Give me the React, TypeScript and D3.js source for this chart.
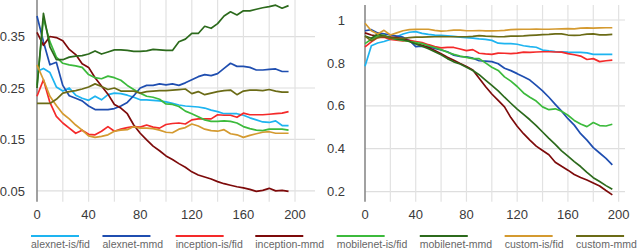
import { useEffect, useRef } from "react";
import * as d3 from "d3";

// epochs shared by every series
const epochs = [
	0, 5, 10, 15, 20, 25, 30, 35, 40, 45, 50, 55, 60, 65, 70, 75, 80, 85, 90, 95,
	100, 105, 110, 115, 120, 125, 130, 135, 140, 145, 150, 155, 160, 165, 170, 175,
	180, 185, 190, 195,
];

const seriesNames = [
	"alexnet-is/fid",
	"alexnet-mmd",
	"inception-is/fid",
	"inception-mmd",
	"mobilenet-is/fid",
	"mobilenet-mmd",
	"custom-is/fid",
	"custom-mmd",
];
const seriesColors = [
	"#1eb4f0",
	"#1f4eb0",
	"#f42a2a",
	"#7d0a0a",
	"#3cba3c",
	"#2c6a1c",
	"#d49a30",
	"#6b6b16",
];

// left panel
const leftAlexIs = [
	0.282, 0.288, 0.28, 0.252, 0.244, 0.25, 0.236, 0.23, 0.226, 0.234, 0.227, 0.237,
	0.24, 0.239, 0.236, 0.232, 0.227, 0.227, 0.226, 0.225, 0.223, 0.22, 0.217, 0.215,
	0.214, 0.213, 0.211, 0.207, 0.204, 0.2, 0.2, 0.2, 0.197, 0.192, 0.188, 0.184,
	0.183, 0.186, 0.177, 0.177,
];
const leftAlexMmd = [
	0.39, 0.34, 0.295, 0.3, 0.255, 0.235, 0.23, 0.225, 0.215, 0.208, 0.208, 0.208,
	0.21, 0.215, 0.222, 0.235, 0.25, 0.255, 0.255, 0.258, 0.256, 0.258, 0.255, 0.26,
	0.266, 0.272, 0.276, 0.274, 0.278, 0.288, 0.298, 0.292, 0.292, 0.29, 0.285,
	0.285, 0.286, 0.287, 0.282, 0.282,
];
const leftIncIs = [
	0.234, 0.266, 0.222, 0.195, 0.182, 0.172, 0.162, 0.168, 0.16, 0.159, 0.166,
	0.175, 0.166, 0.17, 0.173, 0.175, 0.174, 0.178, 0.174, 0.172, 0.179, 0.181,
	0.182, 0.18, 0.188, 0.19, 0.19, 0.19, 0.198, 0.197, 0.197, 0.193, 0.201, 0.198,
	0.198, 0.198, 0.199, 0.2, 0.201, 0.204,
];
const leftIncMmd = [
	0.358, 0.333, 0.35, 0.348, 0.342, 0.325, 0.315, 0.297, 0.29, 0.27, 0.254, 0.238,
	0.218, 0.211, 0.2, 0.178, 0.162, 0.149, 0.137, 0.128, 0.118, 0.111, 0.103, 0.096,
	0.087, 0.081, 0.077, 0.073, 0.068, 0.064, 0.061, 0.058, 0.056, 0.053, 0.049,
	0.051, 0.055, 0.05, 0.051, 0.049,
];
const leftMobIs = [
	0.255, 0.385, 0.34, 0.31, 0.298, 0.295, 0.293, 0.29, 0.276, 0.27, 0.268, 0.273,
	0.27, 0.265, 0.255, 0.247, 0.24, 0.234, 0.232, 0.228, 0.219, 0.218, 0.214, 0.205,
	0.2, 0.194, 0.188, 0.185, 0.185, 0.186, 0.185, 0.182, 0.175, 0.171, 0.168, 0.167,
	0.17, 0.17, 0.17, 0.168,
];
const leftMobMmd = [
	0.25, 0.395, 0.33, 0.305, 0.305, 0.31, 0.312, 0.313, 0.316, 0.322, 0.316, 0.32,
	0.324, 0.324, 0.323, 0.321, 0.321, 0.322, 0.325, 0.324, 0.323, 0.323, 0.34,
	0.345, 0.356, 0.356, 0.37, 0.366, 0.375, 0.39, 0.398, 0.392, 0.4, 0.4, 0.403,
	0.406, 0.408, 0.411, 0.405, 0.41,
];
const leftCustIs = [
	0.295, 0.266, 0.234, 0.216, 0.2, 0.19, 0.178, 0.168, 0.157, 0.154, 0.156, 0.159,
	0.166, 0.168, 0.169, 0.175, 0.172, 0.172, 0.171, 0.168, 0.164, 0.163, 0.17,
	0.173, 0.18, 0.176, 0.17, 0.167, 0.166, 0.169, 0.161, 0.159, 0.154, 0.158, 0.161,
	0.164, 0.165, 0.162, 0.162, 0.162,
];
const leftCustMmd = [
	0.22, 0.22, 0.22, 0.228, 0.24, 0.243, 0.245, 0.248, 0.252, 0.258, 0.253, 0.247,
	0.25, 0.244, 0.244, 0.244, 0.24, 0.243, 0.244, 0.245, 0.245, 0.246, 0.247, 0.248,
	0.239, 0.243, 0.237, 0.24, 0.243, 0.245, 0.246, 0.237, 0.244, 0.246, 0.246,
	0.245, 0.247, 0.244, 0.242, 0.242,
];

// right panel
const rightAlexIs = [
	0.785, 0.88, 0.893, 0.9, 0.91, 0.922, 0.935, 0.943, 0.946, 0.938, 0.933, 0.93,
	0.928, 0.926, 0.924, 0.92, 0.918, 0.916, 0.912, 0.91, 0.905, 0.892, 0.89, 0.89,
	0.887, 0.88, 0.876, 0.873, 0.86, 0.856, 0.853, 0.852, 0.85, 0.849, 0.849, 0.847,
	0.84, 0.84, 0.84, 0.84,
];
const rightAlexMmd = [
	0.95, 0.955, 0.94, 0.935, 0.93, 0.925, 0.92, 0.905, 0.876, 0.878, 0.876, 0.868,
	0.86, 0.852, 0.836, 0.83, 0.828, 0.822, 0.81, 0.808, 0.806, 0.796, 0.775, 0.764,
	0.75, 0.735, 0.72, 0.695, 0.67, 0.64, 0.607, 0.575, 0.54, 0.51, 0.47, 0.44,
	0.405, 0.38, 0.355, 0.325,
];
const rightIncIs = [
	0.875, 0.898, 0.918, 0.92, 0.91, 0.906, 0.903, 0.905, 0.9, 0.895, 0.885, 0.876,
	0.87, 0.872, 0.872, 0.865, 0.857, 0.862, 0.845, 0.842, 0.84, 0.846, 0.845, 0.843,
	0.846, 0.85, 0.849, 0.851, 0.852, 0.852, 0.851, 0.85, 0.843, 0.838, 0.832, 0.816,
	0.82, 0.806, 0.81, 0.813,
];
const rightIncMmd = [
	0.94, 0.93, 0.925, 0.922, 0.92, 0.918, 0.912, 0.902, 0.892, 0.882, 0.872, 0.858,
	0.843, 0.826, 0.812, 0.797, 0.783, 0.767, 0.728, 0.69, 0.655, 0.625, 0.595,
	0.545, 0.505, 0.47, 0.44, 0.412, 0.392, 0.372, 0.337, 0.318, 0.3, 0.28, 0.266,
	0.254, 0.24, 0.226, 0.205, 0.185,
];
const rightMobIs = [
	0.89, 0.91, 0.925, 0.93, 0.915, 0.91, 0.905, 0.9, 0.895, 0.89, 0.88, 0.872,
	0.862, 0.85, 0.84, 0.832, 0.826, 0.82, 0.82, 0.8, 0.78, 0.765, 0.735, 0.715, 0.69,
	0.66, 0.64, 0.622, 0.595, 0.582, 0.586, 0.575, 0.556, 0.532, 0.515, 0.503, 0.522,
	0.508, 0.506, 0.514,
];
const rightMobMmd = [
	0.925, 0.915, 0.935, 0.925, 0.918, 0.912, 0.908, 0.9, 0.888, 0.878, 0.866,
	0.852, 0.838, 0.82, 0.805, 0.795, 0.78, 0.765, 0.745, 0.72, 0.695, 0.67, 0.64,
	0.612, 0.585, 0.56, 0.535, 0.508, 0.478, 0.448, 0.42, 0.39, 0.365, 0.34, 0.317,
	0.29, 0.265, 0.247, 0.228, 0.211,
];
const rightCustIs = [
	0.985, 0.95, 0.935, 0.952, 0.93, 0.94, 0.95, 0.955, 0.956, 0.957, 0.957, 0.952,
	0.948, 0.95, 0.953, 0.953, 0.95, 0.95, 0.951, 0.949, 0.949, 0.95, 0.952, 0.955,
	0.956, 0.957, 0.957, 0.958, 0.957, 0.957, 0.958, 0.959, 0.96, 0.959, 0.962, 0.963,
	0.962, 0.963, 0.964, 0.964,
];
const rightCustMmd = [
	0.925, 0.903, 0.918, 0.925, 0.915, 0.915, 0.915, 0.918, 0.92, 0.92, 0.921, 0.922,
	0.923, 0.922, 0.922, 0.922, 0.922, 0.924, 0.927, 0.925, 0.924, 0.922, 0.923,
	0.925, 0.925, 0.926, 0.928, 0.93, 0.932, 0.933, 0.935, 0.935, 0.93, 0.928, 0.93,
	0.934, 0.935, 0.931, 0.931, 0.933,
];

const leftSeries = [
	leftAlexIs, leftAlexMmd, leftIncIs, leftIncMmd,
	leftMobIs, leftMobMmd, leftCustIs, leftCustMmd,
];
const rightSeries = [
	rightAlexIs, rightAlexMmd, rightIncIs, rightIncMmd,
	rightMobIs, rightMobMmd, rightCustIs, rightCustMmd,
];

const xTicks = [0, 40, 80, 120, 160, 200];
const xGrid = [20, 40, 60, 80, 100, 120, 140, 160, 180, 200];
const leftYTicks = [0.05, 0.15, 0.25, 0.35];
const rightYTicks = [0.2, 0.4, 0.6, 0.8, 1];

export default function App() {
	const svgRef = useRef<SVGSVGElement>(null);

	useEffect(() => {
		if (!svgRef.current) return;
		const svg = d3.select(svgRef.current);
		svg.selectAll("*").remove();

		const font = "'Liberation Sans', Arial, sans-serif";

		function panel(
			series: number[][],
			x: d3.ScaleLinear<number, number>,
			y: d3.ScaleLinear<number, number>,
			yTicks: number[],
			labelRight: number,
		) {
			const g = svg.append("g");
			const [x0, x1] = x.range();
			const [yb, yt] = y.range();

			// grid
			g.selectAll(".hg")
				.data(yTicks)
				.join("line")
				.attr("x1", x0)
				.attr("x2", x1)
				.attr("y1", (d) => y(d))
				.attr("y2", (d) => y(d))
				.attr("stroke", "#dedede")
				.attr("stroke-width", 1.2);
			g.selectAll(".vg")
				.data(xGrid)
				.join("line")
				.attr("x1", (d) => x(d))
				.attr("x2", (d) => x(d))
				.attr("y1", yt)
				.attr("y2", yb)
				.attr("stroke", "#e2e2e2")
				.attr("stroke-width", 1.2);

			// axis line
			g.append("line")
				.attr("x1", x(0))
				.attr("x2", x(0))
				.attr("y1", yt)
				.attr("y2", yb)
				.attr("stroke", "#8a8a8a")
				.attr("stroke-width", 1.6);

			// tick labels
			g.selectAll(".yl")
				.data(yTicks)
				.join("text")
				.attr("x", labelRight)
				.attr("y", (d) => y(d))
				.attr("dy", "0.36em")
				.attr("text-anchor", "end")
				.attr("font-family", font)
				.attr("font-size", 13)
				.attr("fill", "#3a3a3a")
				.text((d) => String(d));
			g.selectAll(".xl")
				.data(xTicks)
				.join("text")
				.attr("x", (d) => x(d))
				.attr("y", 219)
				.attr("text-anchor", "middle")
				.attr("font-family", font)
				.attr("font-size", 13)
				.attr("fill", "#3a3a3a")
				.text((d) => String(d));

			const line = d3
				.line<number>()
				.x((_, i) => x(epochs[i]))
				.y((d) => y(d));

			g.selectAll(".series")
				.data(series)
				.join("path")
				.attr("d", (d) => line(d))
				.attr("fill", "none")
				.attr("stroke", (_, i) => seriesColors[i])
				.attr("stroke-width", 1.7)
				.attr("stroke-linejoin", "round");
		}

		panel(
			leftSeries,
			d3.scaleLinear().domain([0, 215.5]).range([37, 315]),
			d3.scaleLinear().domain([0.029, 0.421]).range([201.7, 0]),
			leftYTicks,
			25,
		);
		panel(
			rightSeries,
			d3.scaleLinear().domain([0, 205]).range([365, 625]),
			d3.scaleLinear().domain([0.153, 1.07]).range([201.7, 5]),
			rightYTicks,
			345,
		);

		// legend, laid out left to right from text widths
		const legend = svg.append("g");
		let cx = 31;
		seriesNames.forEach((name, i) => {
			const item = legend.append("g").attr("transform", `translate(${cx},0)`);
			item.append("line")
				.attr("x1", 0)
				.attr("x2", 48)
				.attr("y1", 236)
				.attr("y2", 236)
				.attr("stroke", seriesColors[i])
				.attr("stroke-width", 2);
			const t = item
				.append("text")
				.attr("x", 0)
				.attr("y", 248)
				.attr("font-family", font)
				.attr("font-size", 10.5)
				.attr("fill", "#666")
				.text(name);
			const w = (t.node() as SVGTextElement).getComputedTextLength();
			cx += Math.max(w, 48) + 12.5;
		});
	}, []);

	return (
		<svg
			ref={svgRef}
			width={640}
			height={251}
			style={{ position: "absolute", left: 0, top: 0, background: "#fff" }}
		/>
	);
}
